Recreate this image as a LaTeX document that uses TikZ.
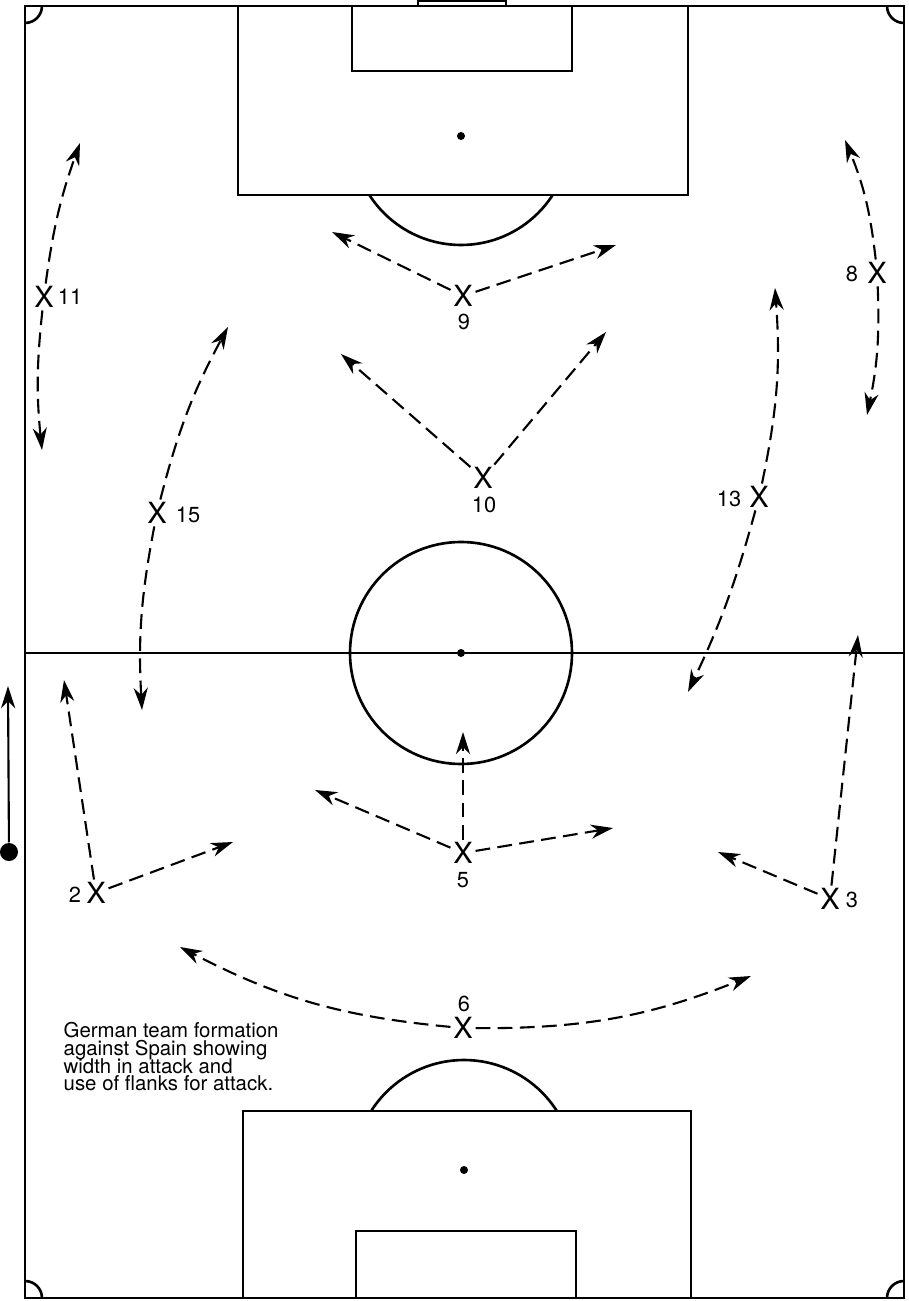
\documentclass[tikz,border=0pt]{standalone}
\usepackage{fontspec}
\setmainfont{TeX Gyre Heros}
\usetikzlibrary{arrows.meta}
\begin{document}
\begin{tikzpicture}[x=0.01cm,y=-0.01cm,
  pitch/.style={line width=0.75pt},
  runarrow/.style={line width=0.6pt, dash pattern=on 4.2pt off 2.1pt,
    -{Stealth[length=6.3pt,width=4pt,inset=2pt]}},
  solidarrow/.style={line width=0.6pt, -{Stealth[length=6.3pt,width=4pt,inset=2pt]}},
  player/.style={font=\fontsize{8.3}{8.3}\selectfont, inner sep=0.6pt},
  num/.style={font=\fontsize{6.2}{6.2}\selectfont, inner sep=0pt},
  ]
\useasboundingbox (0,0) rectangle (908,1301);
% pitch
\draw[pitch] (25,6) rectangle (904,1298);
\draw[pitch] (25,653) -- (904,653);
\draw[pitch] (461,653) circle[radius=111];
\fill (461,653) circle[radius=4];
\draw[pitch] (418,1) rectangle (506,6);
% top penalty area
\draw[pitch] (238,6) rectangle (688,195);
\draw[pitch] (352,6) rectangle (572,71);
\fill (461,136) circle[radius=4];
\begin{scope}
  \clip (0,195) rectangle (908,400);
  \draw[pitch] (461,136) circle[radius=109];
\end{scope}
% bottom penalty area
\draw[pitch] (243,1111) rectangle (691,1298);
\draw[pitch] (356,1231) rectangle (576,1298);
\fill (464,1170) circle[radius=4];
\begin{scope}
  \clip (0,900) rectangle (908,1111);
  \draw[pitch] (464,1170) circle[radius=110];
\end{scope}
% corner arcs
\begin{scope}
  \clip (25,6) rectangle (904,1298);
  \draw[pitch] (25,6) circle[radius=17];
  \draw[pitch] (904,6) circle[radius=17];
  \draw[pitch] (25,1298) circle[radius=17];
  \draw[pitch] (904,1298) circle[radius=17];
\end{scope}
% players
\node[player] (p11) at (44,297) {X};  \node[num] (n11) at (70,297) {11};
\node[player] (p9)  at (463,296) {X}; \node[num] (n9) at (464,322) {9};
\node[player] (p8)  at (877,273) {X}; \node[num] (n8) at (852,274) {8};
\node[player] (p10) at (483,478) {X}; \node[num] (n10) at (484,505) {10};
\node[player] (p15) at (157,513) {X}; \node[num] (n15) at (188,515) {15};
\node[player] (p13) at (759,497) {X}; \node[num] (n13) at (729,499) {13};
\node[player] (p2)  at (96,893) {X};  \node[num] (n2) at (75,895) {2};
\node[player] (p5)  at (463,853) {X}; \node[num] (n5) at (463,880) {5};
\node[player] (p3)  at (830,899) {X}; \node[num] (n3) at (852,900) {3};
\node[player] (p6)  at (463,1028) {X}; \node[num] (n6) at (464,1004) {6};
% arrow tips
\coordinate (t11u) at (80,143);  \coordinate (t11d) at (42,450);
\coordinate (t9l) at (332,232);  \coordinate (t9r) at (616,245);
\coordinate (t10l) at (341,354); \coordinate (t10r) at (606,332);
\coordinate (t15u) at (228,327); \coordinate (t15d) at (142,710);
\coordinate (t13u) at (775,288); \coordinate (t13d) at (688,692);
\coordinate (t8u) at (845,140);  \coordinate (t8d) at (867,415);
\coordinate (t2u) at (64,680);   \coordinate (t2r) at (233,842);
\coordinate (t5u) at (463,732);  \coordinate (t5l) at (315,790); \coordinate (t5r) at (613,828);
\coordinate (t3u) at (858,635);  \coordinate (t3l) at (718,852);
\coordinate (t6l) at (180,947);  \coordinate (t6r) at (751,976);
% runs
\draw[runarrow] (p11) to[bend left=6] (t11u);
\draw[runarrow] (p11) to[bend right=6] (t11d);
\draw[runarrow] (p9) -- (t9l);
\draw[runarrow] (p9) -- (t9r);
\draw[runarrow] (p10) -- (t10l);
\draw[runarrow] (p10) -- (t10r);
\draw[runarrow] (p15) to[bend left=7] (t15u);
\draw[runarrow] (p15) to[bend right=7] (t15d);
\draw[runarrow] (p13) to[bend right=8] (t13u);
\draw[runarrow] (p13) to[bend left=5] (t13d);
\draw[runarrow] (p8) to[bend right=8] (t8u);
\draw[runarrow] (p8) to[bend left=7] (t8d);
\draw[runarrow] (p2) -- (t2u);
\draw[runarrow] (p2) -- (t2r);
\draw[runarrow] (p5) -- (t5u);
\draw[runarrow] (p5) -- (t5l);
\draw[runarrow] (p5) -- (t5r);
\draw[runarrow] (p3) -- (t3u);
\draw[runarrow] (p3) -- (t3l);
\draw[runarrow] (p6) to[bend left=11] (t6l);
\draw[runarrow] (p6) to[bend right=11] (t6r);
% ball and direction of play
\node[circle, fill, inner sep=0pt, minimum size=0.18cm] (ball) at (9,852) {};
\coordinate (tball) at (8,686);
\draw[solidarrow] (ball) -- (tball);
% caption
\node[anchor=north west, align=left, inner sep=0pt,
  font=\fontsize{5.8}{5.0}\selectfont\setlength{\lineskiplimit}{-10pt}\setlength{\lineskip}{0pt}] (cap) at (63,1022)
  {German team formation\\against Spain showing\\width in attack and\\use of flanks for attack.};
\end{tikzpicture}
\end{document}
